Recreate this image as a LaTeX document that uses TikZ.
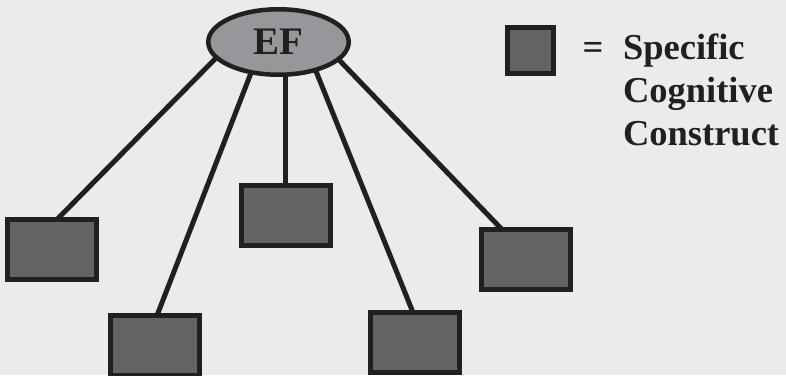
\documentclass[tikz,border=0pt]{standalone}
\usepackage{fontspec}
\setmainfont{Liberation Serif}
\usetikzlibrary{shapes.geometric}
\definecolor{bgc}{RGB}{235,235,238}
\definecolor{boxfill}{RGB}{100,100,100}
\definecolor{inkc}{RGB}{35,31,32}
\definecolor{efgray}{RGB}{151,151,155}
\pgfdeclarelayer{bglayer}
\pgfdeclarelayer{edgelayer}
\pgfsetlayers{bglayer,edgelayer,main}
\tikzset{
  cbox/.style={rectangle, draw=inkc, fill=boxfill, line width=5pt,
    minimum width=89pt, minimum height=60pt, inner sep=0pt, outer sep=0pt},
  legbox/.style={rectangle, draw=inkc, fill=boxfill, line width=5pt,
    minimum width=46pt, minimum height=46pt, inner sep=0pt, outer sep=0pt},
  efnode/.style={ellipse, draw=inkc, fill=efgray, line width=4.5pt,
    minimum width=140.5pt, minimum height=65.5pt, inner sep=0pt, outer sep=0pt,
    text=inkc, font=\fontsize{39}{47}\selectfont\bfseries},
  legtext/.style={anchor=base west, inner sep=0pt, outer sep=0pt, text=inkc,
    font=\fontsize{36.5}{44}\selectfont\bfseries},
  conn/.style={draw=inkc, line width=5pt}
}
\begin{document}
\begin{tikzpicture}[x=1pt,y=-1pt]
\begin{pgfonlayer}{bglayer}
  \fill[bgc] (0,0) rectangle (786,375);
\end{pgfonlayer}
\path[use as bounding box] (0,0) rectangle (786,375);

\node[efnode] (ef) at (278.5,42) {EF};

\node[cbox] (b1) at (52,249.5) {};
\node[cbox] (b2) at (155,345.5) {};
\node[cbox] (b3) at (285.5,215) {};
\node[cbox] (b4) at (415,342.5) {};
\node[cbox] (b5) at (525.5,259.5) {};

\begin{pgfonlayer}{edgelayer}
  \draw[conn] (ef.194) -- ([xshift=5pt]b1.north);
  \draw[conn] (ef.228) -- ([xshift=2pt]b2.north);
  \draw[conn] (b3.north |- ef.south) -- (b3.north);
  \draw[conn] (ef.323) -- ([xshift=-2pt]b4.north);
  \draw[conn] (ef.344.5) -- ([xshift=-23.5pt]b5.north);
\end{pgfonlayer}

\node[legbox] (leg) at (530.5,50.5) {};
\node[anchor=base, inner sep=0pt, outer sep=0pt, text=inkc,
  font=\fontsize{36.5}{44}\selectfont\bfseries] (eq) at (593,59) {=};
\node[legtext] (t1) at (623,59) {Specific};
\node[legtext] (t2) at (623,102) {Cognitive};
\node[legtext] (t3) at (623,145) {Construct};
\end{tikzpicture}
\end{document}
